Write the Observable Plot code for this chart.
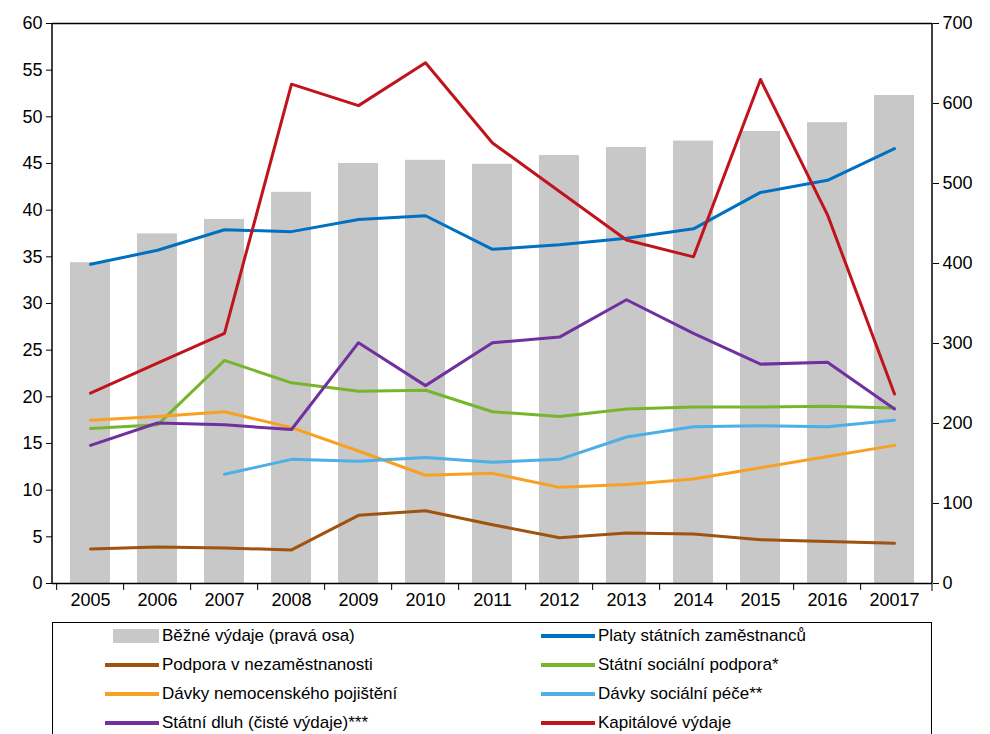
<!DOCTYPE html>
<html><head><meta charset="utf-8">
<script src="https://cdn.jsdelivr.net/npm/d3@7"></script>
<script src="https://cdn.jsdelivr.net/npm/@observablehq/plot@0.6"></script>
<style>
body{margin:0;background:#fff;font-family:"Liberation Sans",Arial,sans-serif;}
#legend{position:absolute;left:52px;top:622px;width:880px;height:120px;border:1.5px solid #000;box-sizing:border-box;font-size:17px;}
.it{position:absolute;display:flex;align-items:center;}
.sw{width:54px;margin-right:3px;}
</style></head><body>
<div id="chart"></div>
<div id="legend"></div>
<script>
const years = ["2005","2006","2007","2008","2009","2010","2011","2012","2013","2014","2015","2016","20017"];
const bezne = [401,437,455,489,525,529,524,535,545,553,565,576,610];
const platy = [34.2,35.7,37.9,37.7,39.0,39.4,35.8,36.3,37.0,38.0,41.9,43.2,46.6];
const podpora = [3.7,3.9,3.8,3.6,7.3,7.8,6.3,4.9,5.4,5.3,4.7,4.5,4.3];
const ssp = [16.6,17.0,23.9,21.5,20.6,20.7,18.4,17.9,18.7,18.9,18.9,19.0,18.8];
const nemoc = [17.5,17.9,18.4,16.7,14.2,11.6,11.8,10.3,10.6,11.2,12.4,13.6,14.8];
const pece = [null,null,11.7,13.3,13.1,13.5,13.0,13.3,15.7,16.8,16.9,16.8,17.5];
const dluh = [14.8,17.2,17.0,16.5,25.8,21.2,25.8,26.4,30.4,26.8,23.5,23.7,18.7];
const kapital = [20.4,23.6,26.8,53.5,51.2,55.8,47.2,42.0,36.8,35.0,54.0,39.5,20.3];

const series = [
  ["Platy státních zaměstnanců", platy, "#0070c0"],
  ["Podpora v nezaměstnanosti", podpora, "#a0520f"],
  ["Státní sociální podpora*", ssp, "#77b52e"],
  ["Dávky nemocenského pojištění", nemoc, "#f8a024"],
  ["Dávky sociální péče**", pece, "#4bb0e8"],
  ["Státní dluh (čisté výdaje)***", dluh, "#7030a0"],
  ["Kapitálové výdaje", kapital, "#c0141c"]
];
const k = 60 / 700;
const rows = series.flatMap(([name, vals, c]) => vals.map((v, i) => ({name, year: years[i], v})).filter(d => d.v != null));
const bars = years.map((y, i) => ({year: y, v: bezne[i] * k}));
const bw = 880 / 13;

const chart = Plot.plot({
  width: 990, height: 622,
  marginTop: 23, marginLeft: 52, marginRight: 58, marginBottom: 39,
  style: {fontFamily: "Liberation Sans, Arial, sans-serif", fontSize: "18px", color: "#000"},
  x: {domain: years, paddingInner: 0.41, paddingOuter: 0.205, label: null},
  y: {domain: [0, 60], label: null},
  color: {domain: series.map(s => s[0]), range: series.map(s => s[2])},
  marks: [
    Plot.barY(bars, {x: "year", y: "v", fill: "#c8c8c8"}),
    Plot.line(rows, {x: "year", y: "v", z: "name", stroke: "name", strokeWidth: 3}),
    Plot.ruleY([60], {stroke: "#000", strokeWidth: 1.5}),
    Plot.ruleY([0], {stroke: "#000", strokeWidth: 1.5}),
    Plot.ruleX(years, {x: d => d, dx: -bw / 2, y1: 0, y2: -0.75, clip: false, stroke: "#000"}),
    Plot.axisY(d3.range(0, 61, 5), {anchor: "left", tickSize: 6, tickPadding: 4, fontSize: 18, stroke: "#000"}),
    Plot.axisY(d3.range(0, 701, 100).map(v => v * k), {anchor: "right", tickSize: 6, tickPadding: 4, fontSize: 18, tickFormat: d => Math.round(d / k)}),
    Plot.axisX({tickSize: 0, tickPadding: 10, fontSize: 18})
  ]
});
d3.select("#chart").append(() => chart);
const svg = d3.select(chart);
[52, 932].forEach(x => svg.append("line").attr("x1", x).attr("x2", x).attr("y1", 23).attr("y2", 583).attr("stroke", "#000").attr("stroke-width", 1.5));
svg.append("line").attr("x1", 932).attr("x2", 932).attr("y1", 583).attr("y2", 591).attr("stroke", "#000");

const leg = document.getElementById("legend");
const items = [["Běžné výdaje (pravá osa)", "#c8c8c8", true], ...series.map(s => [s[0], s[2], false])];
items.forEach(([name, c, bar], i) => {
  const d = document.createElement("div");
  d.className = "it";
  d.style.left = (i % 2 ? 488 : 52) + "px";
  d.style.top = (3 + Math.floor(i / 2) * 29) + "px";
  d.innerHTML = `<span class="sw" style="height:${bar ? 14 : 4}px;background:${c};${bar ? "width:46px;margin-left:8px" : ""}"></span>${name}`;
  leg.appendChild(d);
});
</script></body></html>
